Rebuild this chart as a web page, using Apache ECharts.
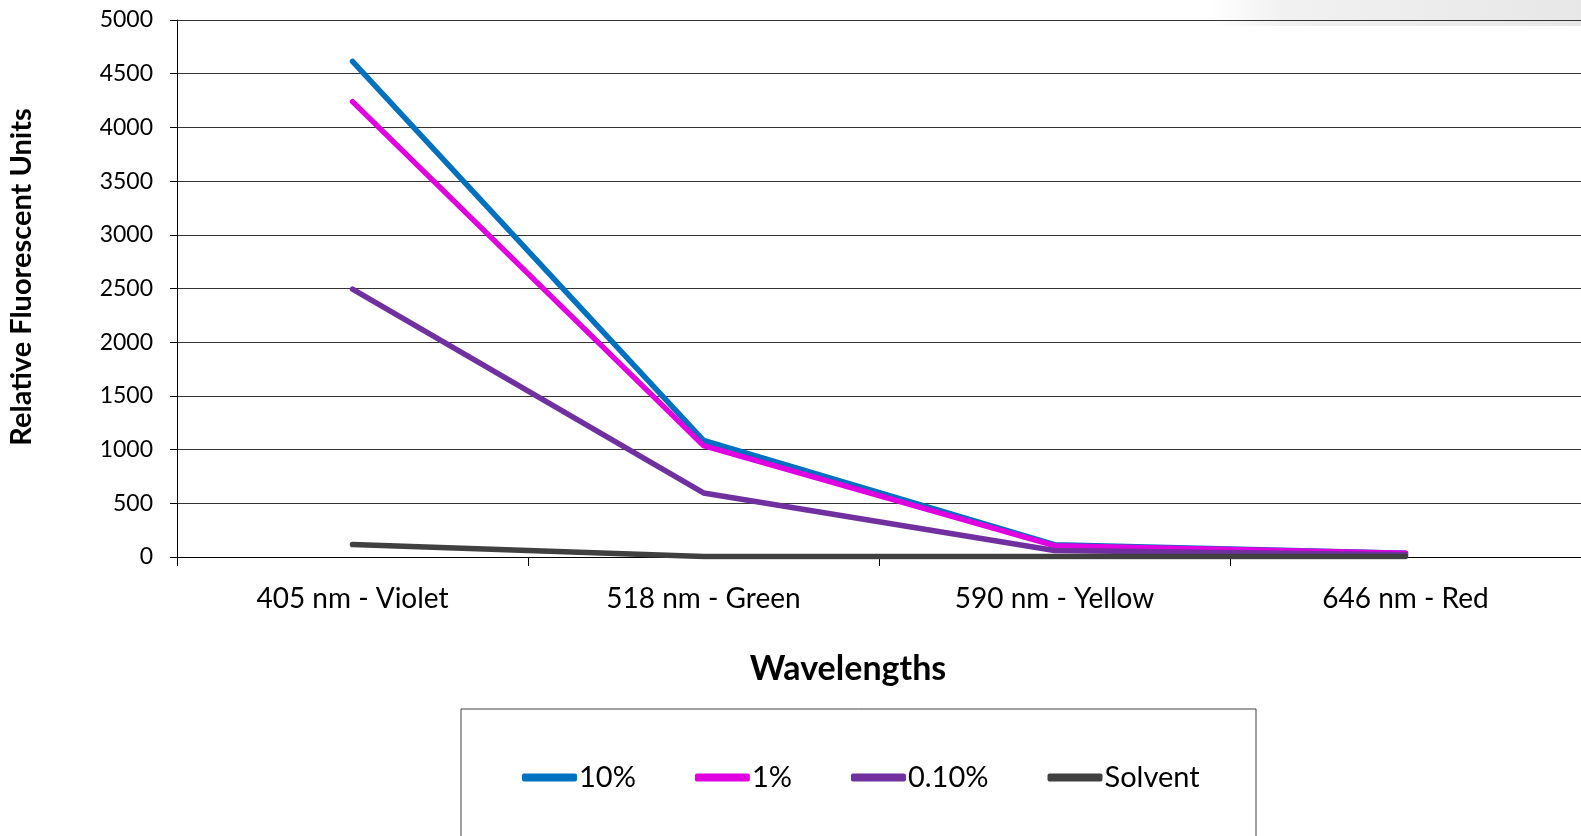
<!DOCTYPE html>
<html><head><meta charset="utf-8">
<script src="https://cdn.jsdelivr.net/npm/echarts@6/dist/echarts.min.js"></script>
<style>html,body{margin:0;padding:0;background:#fff}#c{width:1581px;height:836px}</style>
</head><body><div id="c"></div>
<script>
const categories = ['405 nm - Violet', '518 nm - Green', '590 nm - Yellow', '646 nm - Red'];
const s10 = [4615, 1085, 115, 35];
const s1 = [4240, 1037, 105, 35];
const s01 = [2494, 596, 60, 20];
const solvent = [116, 5, 5, 5];
const seriesNames = ['10%', '1%', '0.10%', 'Solvent'];
const colors = ['#0070C0', '#E000E0', '#7030A0', '#404040'];
const yTicks = { min: 0, max: 5000, interval: 500 };

const font = 'Lato, "Open Sans", sans-serif';
const chart = echarts.init(document.getElementById('c'));
const data = [s10, s1, s01, solvent];
chart.setOption({
  animation: false,
  color: colors,
  grid: { left: 177, right: 0, top: 20, bottom: 279, containLabel: false },
  graphic: [
    { type: 'rect', shape: { x: 1210, y: 0, width: 371, height: 26 }, silent: true, z: -1,
      style: { fill: new echarts.graphic.LinearGradient(0, 0, 1, 0, [
        { offset: 0, color: 'rgba(215,215,215,0)' },
        { offset: 0.2, color: 'rgba(215,215,215,0.35)' },
        { offset: 1, color: 'rgba(215,215,215,0.6)' }]) } },
    { type: 'rect', shape: { x: 461, y: 709, width: 795, height: 140 }, silent: true,
      style: { fill: 'none', stroke: '#404040', lineWidth: 1 } },
    { type: 'text', x: 848, y: 669, silent: true,
      style: { text: 'Wavelengths', font: 'bold 34px ' + font, fill: '#000', textAlign: 'center', textVerticalAlign: 'middle' } },
    { type: 'text', x: 22, y: 277, rotation: Math.PI / 2, silent: true,
      style: { text: 'Relative Fluorescent Units', font: 'bold 29px ' + font, fill: '#000', textAlign: 'center', textVerticalAlign: 'middle' } }
  ],
  legend: {
    left: 517, top: 758,
    itemWidth: 55, itemHeight: 8, itemGap: 59,
    icon: 'roundRect',
    textStyle: { fontFamily: font, fontSize: 29, color: '#000', padding: [0, 0, 0, -3] },
    data: seriesNames
  },
  xAxis: {
    type: 'category', data: categories, boundaryGap: true,
    axisLine: { lineStyle: { color: '#000', width: 1 } },
    axisTick: { show: true, length: 9, inside: false, lineStyle: { color: '#000' } },
    axisLabel: { color: '#000', fontFamily: font, fontSize: 28, margin: 28 },
    splitLine: { show: false }
  },
  yAxis: {
    type: 'value', min: yTicks.min, max: yTicks.max, interval: yTicks.interval,
    axisLine: { show: true, lineStyle: { color: '#000', width: 1 } },
    axisTick: { show: true, length: 7, lineStyle: { color: '#000' } },
    axisLabel: { color: '#000', fontFamily: font, fontSize: 23, margin: 24, formatter: v => String(v) },
    splitLine: { show: true, lineStyle: { color: '#333', width: 1 } }
  },
  series: seriesNames.map((n, i) => ({
    name: n, type: 'line', data: data[i], symbol: 'none', smooth: false,
    lineStyle: { width: 5.5, color: colors[i], cap: 'round', join: 'round' },
    itemStyle: { color: colors[i] }
  }))
});
</script></body></html>
